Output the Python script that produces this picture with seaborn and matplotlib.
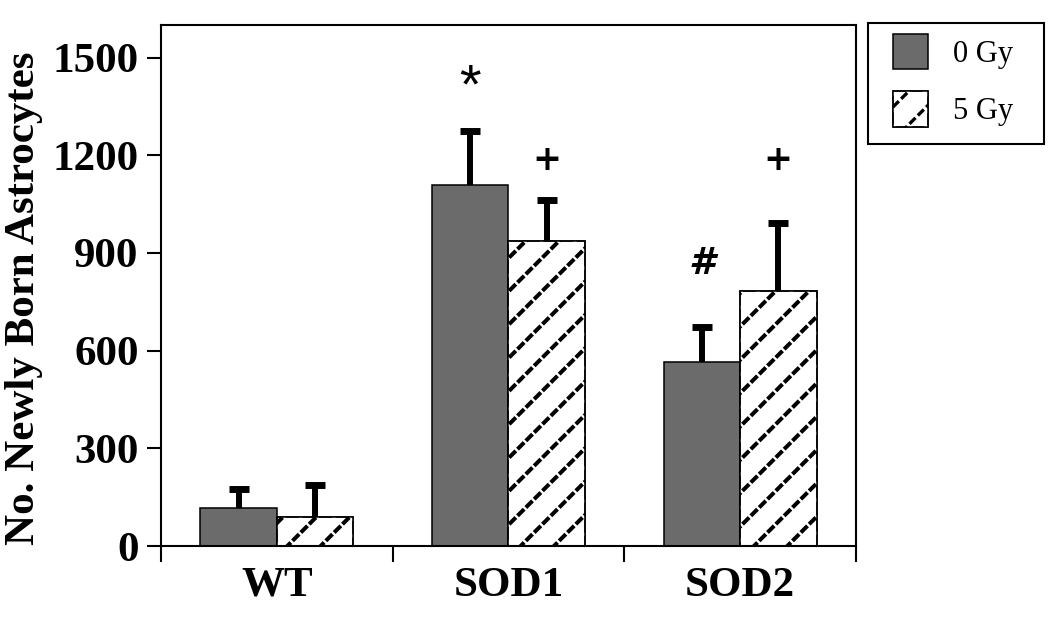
import numpy as np
import pandas as pd
import matplotlib
matplotlib.use("Agg")
import matplotlib.pyplot as plt
from matplotlib.patches import Rectangle
from matplotlib.ticker import FixedLocator, NullFormatter, FixedFormatter
import seaborn as sns

# ---------------------------------------------------------
# Data
# ---------------------------------------------------------
genotypes = ["WT", "SOD1", "SOD2"]
doses = ["0 Gy", "5 Gy"]
mean_0gy = [117, 1110, 566]
mean_5gy = [89, 938, 784]
sem_0gy = [58, 163, 107]
sem_5gy = [98, 126, 209]
marks_0gy = ["", "*", "#"]
marks_5gy = ["", "+", "+"]
yticks = [0, 300, 600, 900, 1200, 1500]

df = pd.DataFrame({
    "genotype": genotypes * 2,
    "dose": [doses[0]] * 3 + [doses[1]] * 3,
    "count": mean_0gy + mean_5gy,
})

# ---------------------------------------------------------
# Style
# ---------------------------------------------------------
sns.set_style("ticks")
plt.rcParams["font.family"] = ["Liberation Serif", "DejaVu Serif"]
plt.rcParams["font.weight"] = "bold"
plt.rcParams["hatch.linewidth"] = 2.4
plt.rcParams["hatch.color"] = "black"
for k in ["text.color", "axes.labelcolor", "xtick.color", "ytick.color"]:
    plt.rcParams[k] = "black"

fig = plt.figure(figsize=(10.5, 6.19), dpi=100)
ax = fig.add_axes([0.1533, 0.1179, 0.6619, 0.8417])

sns.barplot(
    data=df, x="genotype", y="count", hue="dose",
    order=genotypes, hue_order=doses,
    palette=["#6b6b6b", "white"], saturation=1,
    width=0.66, gap=0, errorbar=None,
    edgecolor="black", linewidth=1.1, ax=ax,
)

bars0, bars5 = ax.containers[0], ax.containers[1]


# dotted diagonal hatch: black '/' lines broken up by a white '\' hatch
def dotted_overlay(p):
    p.set_hatch("/")
    w = Rectangle((p.get_x(), p.get_y()), p.get_width(), p.get_height(),
                  facecolor="none", edgecolor="white", linewidth=0,
                  hatch="\\\\", zorder=p.get_zorder() + 0.01)
    e = Rectangle((p.get_x(), p.get_y()), p.get_width(), p.get_height(),
                  facecolor="none", edgecolor="black", linewidth=1.1,
                  zorder=p.get_zorder() + 0.02)
    if hasattr(p, "set_hatch_linewidth"):
        p.set_hatch_linewidth(2.9)
        w.set_hatch_linewidth(1.7)
    return w, e


overlays = []
for p in bars5:
    w, e = dotted_overlay(p)
    ax.add_patch(w)
    ax.add_patch(e)
    overlays.append((w, e))

# one-sided error bars (upper only)
for bars, sem in [(bars0, sem_0gy), (bars5, sem_5gy)]:
    xs = [p.get_x() + p.get_width() / 2 for p in bars]
    ys = [p.get_height() for p in bars]
    _, caps, _ = ax.errorbar(xs, ys, yerr=[np.zeros(len(sem)), sem],
                             fmt="none", ecolor="black", elinewidth=4.3,
                             capsize=7.2, capthick=5.0, zorder=4)
    caps[0].set_visible(False)

# significance marks
mark_levels_0 = [0, 1405, 866]
mark_levels_5 = [0, 1185, 1185]
for bars, marks, lev in [(bars0, marks_0gy, mark_levels_0),
                         (bars5, marks_5gy, mark_levels_5)]:
    for p, m, y in zip(bars, marks, lev):
        if not m:
            continue
        x = p.get_x() + p.get_width() / 2
        if m == "*":
            ax.text(x, y, m, ha="center", va="center", fontsize=40,
                    fontweight="normal", family="Liberation Sans")
        elif m == "#":
            ax.text(x, y, m, ha="center", va="center", fontsize=27,
                    fontweight="bold", fontstyle="italic",
                    family="DejaVu Sans")
        else:
            ax.text(x, y, m, ha="center", va="center", fontsize=25,
                    fontweight="bold", family="DejaVu Sans")

# ---------------------------------------------------------
# Axes
# ---------------------------------------------------------
ax.set_ylim(0, 1600)
ax.set_yticks(yticks)
ax.set_xlim(-0.5, 2.5)
ax.xaxis.set_major_locator(FixedLocator([-0.5, 0.5, 1.5, 2.5]))
ax.xaxis.set_major_formatter(NullFormatter())
ax.xaxis.set_minor_locator(FixedLocator([0, 1, 2]))
ax.xaxis.set_minor_formatter(FixedFormatter(genotypes))
ax.tick_params(axis="x", which="major", length=11.5, width=1.5, direction="out")
ax.tick_params(axis="x", which="minor", length=0, pad=15, labelsize=31)
ax.tick_params(axis="y", length=10, width=1.5, pad=6, labelsize=31)
ax.set_xlabel("")
ax.set_ylabel("No. Newly Born Astrocytes", fontsize=31, fontweight="bold")
ax.yaxis.set_label_coords(-0.170, 0.476)
for s in ax.spines.values():
    s.set_visible(True)
    s.set_linewidth(1.5)
    s.set_color("black")

# legend: unframed entries plus a separate box around them
ax.legend(handles=[bars0[0], (bars5[0],) + overlays[0]], labels=doses,
          loc="upper left", bbox_to_anchor=(893 / 1050, 1 - 34 / 619),
          bbox_transform=fig.transFigure,
          prop={"family": "Liberation Serif", "weight": "normal", "size": 22},
          frameon=False, handlelength=1.15, handleheight=1.4,
          handletextpad=0.8, labelspacing=0.72, borderpad=0,
          borderaxespad=0)
fig.patches.append(Rectangle((868 / 1050, 1 - 144 / 619), 176 / 1050, 121 / 619,
                             transform=fig.transFigure, facecolor="none",
                             edgecolor="black", linewidth=1.5))

fig.savefig("out.png", dpi=100)
